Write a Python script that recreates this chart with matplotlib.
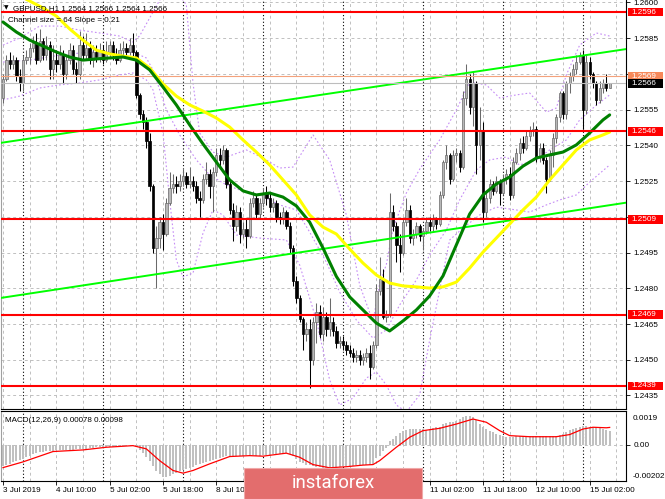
import matplotlib
matplotlib.use("Agg")
import matplotlib.pyplot as plt
from matplotlib.patches import Rectangle
import numpy as np

plt.rcParams['font.family'] = ['Liberation Sans', 'DejaVu Sans']

# ---------------- data (GBPUSD H1, 3 Jul 18:00 .. 15 Jul 08:00) ----------------
open_ = [
 1.2560,1.2568,1.2576,1.2574,1.2576,1.2569,1.2566,1.2576,1.2577,1.2581,
 1.2583,1.2576,1.2584,1.2578,1.2582,1.2572,1.2576,1.2574,1.2578,1.2570,
 1.2576,1.2580,1.2572,1.2570,1.2582,1.2578,1.2581,1.2576,1.2579,1.2577,
 1.2580,1.2576,1.2579,1.2582,1.2578,1.2576,1.2580,1.2581,1.2579,1.2582,
 1.2579,1.2561,1.2553,1.2550,1.2542,1.2523,1.2497,1.2501,1.2508,1.2503,
 1.2516,1.2522,1.2524,1.2523,1.2525,1.2527,1.2524,1.2525,1.2523,1.2518,
 1.2517,1.2526,1.2528,1.2523,1.2529,1.2536,1.2534,1.2538,1.2524,1.2513,
 1.2506,1.2512,1.2503,1.2505,1.2502,1.2516,1.2518,1.2511,1.2516,1.2520,
 1.2518,1.2514,1.2516,1.2510,1.2509,1.2512,1.2506,1.2497,1.2483,1.2476,
 1.2467,1.2461,1.2463,1.2450,1.2466,1.2470,1.2461,1.2468,1.2463,1.2466,
 1.2462,1.2457,1.2458,1.2456,1.2454,1.2453,1.2451,1.2452,1.2450,1.2451,
 1.2453,1.2447,1.2456,1.2479,1.2484,1.2468,1.2469,1.2512,1.2506,1.2498,
 1.2495,1.2508,1.2513,1.2501,1.2503,1.2506,1.2502,1.2504,1.2508,1.2506,
 1.2509,1.2507,1.2519,1.2533,1.2536,1.2526,1.2536,1.2537,1.2531,1.2560,
 1.2568,1.2556,1.2566,1.2540,1.2546,1.2512,1.2518,1.2524,1.2521,1.2525,
 1.2520,1.2526,1.2528,1.2519,1.2533,1.2537,1.2541,1.2539,1.2544,1.2546,
 1.2547,1.2535,1.2539,1.2534,1.2526,1.2536,1.2543,1.2552,1.2562,1.2553,
 1.2566,1.2569,1.2572,1.2575,1.2578,1.2555,1.2575,1.2570,1.2566,1.2559,
 1.2564,1.2566,1.2564]
high = [
 1.2570,1.2578,1.2579,1.2578,1.2577,1.2572,1.2578,1.2580,1.2583,1.2586,
 1.2587,1.2589,1.2585,1.2586,1.2584,1.2582,1.2580,1.2582,1.2580,1.2578,
 1.2583,1.2582,1.2575,1.2588,1.2586,1.2587,1.2584,1.2582,1.2582,1.2583,
 1.2582,1.2584,1.2584,1.2584,1.2581,1.2583,1.2584,1.2583,1.2585,1.2587,
 1.2580,1.2562,1.2555,1.2552,1.2545,1.2524,1.2506,1.2510,1.2511,1.2518,
 1.2529,1.2528,1.2527,1.2528,1.2530,1.2529,1.2531,1.2527,1.2525,1.2521,
 1.2528,1.2533,1.2530,1.2531,1.2539,1.2539,1.2540,1.2539,1.2526,1.2516,
 1.2515,1.2514,1.2508,1.2509,1.2518,1.2521,1.2519,1.2518,1.2522,1.2523,
 1.2520,1.2518,1.2517,1.2512,1.2514,1.2513,1.2508,1.2498,1.2485,1.2477,
 1.2468,1.2466,1.2467,1.2468,1.2474,1.2473,1.2472,1.2470,1.2476,1.2468,
 1.2464,1.2460,1.2460,1.2458,1.2456,1.2455,1.2454,1.2454,1.2453,1.2455,
 1.2456,1.2458,1.2482,1.2493,1.2488,1.2471,1.2520,1.2515,1.2508,1.2503,
 1.2510,1.2518,1.2515,1.2505,1.2508,1.2507,1.2505,1.2510,1.2510,1.2511,
 1.2510,1.2521,1.2534,1.2540,1.2537,1.2538,1.2539,1.2538,1.2563,1.2574,
 1.2570,1.2571,1.2567,1.2556,1.2550,1.2521,1.2526,1.2525,1.2527,1.2526,
 1.2528,1.2530,1.2531,1.2535,1.2539,1.2543,1.2544,1.2546,1.2548,1.2550,
 1.2548,1.2541,1.2541,1.2535,1.2538,1.2545,1.2553,1.2563,1.2563,1.2567,
 1.2571,1.2574,1.2578,1.2579,1.2580,1.2578,1.2577,1.2571,1.2567,1.2567,
 1.2568,1.2570,1.2566]
low = [
 1.2558,1.2567,1.2572,1.2572,1.2567,1.2563,1.2563,1.2574,1.2574,1.2579,
 1.2574,1.2575,1.2576,1.2576,1.2568,1.2568,1.2571,1.2572,1.2566,1.2568,
 1.2574,1.2570,1.2566,1.2568,1.2576,1.2576,1.2574,1.2573,1.2575,1.2575,
 1.2574,1.2575,1.2577,1.2576,1.2574,1.2575,1.2578,1.2577,1.2578,1.2577,
 1.2560,1.2551,1.2547,1.2539,1.2521,1.2495,1.2480,1.2497,1.2496,1.2502,
 1.2515,1.2520,1.2520,1.2521,1.2523,1.2522,1.2522,1.2521,1.2516,1.2510,
 1.2516,1.2524,1.2518,1.2512,1.2527,1.2531,1.2532,1.2522,1.2511,1.2500,
 1.2504,1.2499,1.2501,1.2497,1.2501,1.2514,1.2509,1.2509,1.2514,1.2515,
 1.2512,1.2512,1.2508,1.2507,1.2507,1.2505,1.2495,1.2481,1.2474,1.2466,
 1.2454,1.2458,1.2438,1.2448,1.2457,1.2459,1.2458,1.2460,1.2460,1.2460,
 1.2455,1.2455,1.2454,1.2452,1.2451,1.2449,1.2449,1.2448,1.2448,1.2449,
 1.2442,1.2446,1.2455,1.2477,1.2467,1.2466,1.2468,1.2504,1.2491,1.2487,
 1.2494,1.2506,1.2499,1.2498,1.2501,1.2500,1.2496,1.2503,1.2504,1.2504,
 1.2505,1.2506,1.2518,1.2530,1.2524,1.2525,1.2533,1.2529,1.2530,1.2557,
 1.2553,1.2548,1.2528,1.2534,1.2508,1.2510,1.2516,1.2519,1.2520,1.2515,
 1.2519,1.2524,1.2517,1.2518,1.2532,1.2534,1.2537,1.2538,1.2542,1.2544,
 1.2533,1.2533,1.2532,1.2520,1.2525,1.2531,1.2541,1.2550,1.2551,1.2551,
 1.2562,1.2567,1.2570,1.2574,1.2547,1.2553,1.2568,1.2564,1.2557,1.2558,
 1.2562,1.2563,1.2564]
close = [
 1.2568,1.2576,1.2574,1.2576,1.2569,1.2566,1.2576,1.2577,1.2581,1.2583,
 1.2576,1.2584,1.2578,1.2582,1.2572,1.2576,1.2574,1.2578,1.2570,1.2576,
 1.2580,1.2572,1.2570,1.2582,1.2578,1.2581,1.2576,1.2579,1.2577,1.2580,
 1.2576,1.2579,1.2582,1.2578,1.2576,1.2580,1.2581,1.2579,1.2582,1.2579,
 1.2561,1.2553,1.2550,1.2542,1.2523,1.2497,1.2501,1.2508,1.2503,1.2516,
 1.2522,1.2524,1.2523,1.2525,1.2527,1.2524,1.2525,1.2523,1.2518,1.2517,
 1.2526,1.2528,1.2523,1.2529,1.2536,1.2534,1.2538,1.2524,1.2513,1.2506,
 1.2512,1.2503,1.2505,1.2502,1.2516,1.2518,1.2511,1.2516,1.2520,1.2518,
 1.2514,1.2516,1.2510,1.2509,1.2512,1.2506,1.2497,1.2483,1.2476,1.2467,
 1.2461,1.2463,1.2450,1.2466,1.2470,1.2461,1.2468,1.2463,1.2466,1.2462,
 1.2457,1.2458,1.2456,1.2454,1.2453,1.2451,1.2452,1.2450,1.2451,1.2453,
 1.2447,1.2456,1.2479,1.2484,1.2468,1.2469,1.2512,1.2506,1.2498,1.2495,
 1.2508,1.2513,1.2501,1.2503,1.2506,1.2502,1.2504,1.2508,1.2506,1.2509,
 1.2507,1.2519,1.2533,1.2536,1.2526,1.2536,1.2537,1.2531,1.2560,1.2568,
 1.2556,1.2566,1.2540,1.2546,1.2512,1.2518,1.2524,1.2521,1.2525,1.2520,
 1.2526,1.2528,1.2519,1.2533,1.2537,1.2541,1.2539,1.2544,1.2546,1.2547,
 1.2535,1.2539,1.2534,1.2526,1.2536,1.2543,1.2552,1.2562,1.2553,1.2566,
 1.2569,1.2572,1.2575,1.2578,1.2555,1.2575,1.2570,1.2566,1.2559,1.2564,
 1.2566,1.2564,1.2566]

ma_idx = [0,4,8,12,16,20,24,28,32,36,40,44,48,52,56,60,64,68,72,76,80,84,88,92,
          96,100,104,108,112,116,120,124,128,132,136,140,144,148,152,156,160,164,
          168,172,176,180,182]
ma_green = [1.25918,1.25876,1.25842,1.25817,1.25792,1.25771,1.25758,1.25763,1.25767,
            1.25771,1.25758,1.25717,1.25645,1.25570,1.25486,1.25406,1.25330,1.25255,
            1.25209,1.25192,1.25200,1.25183,1.25146,1.25078,1.24969,1.24850,1.24764,
            1.24709,1.24654,1.24621,1.24663,1.24709,1.24768,1.24852,1.24982,1.25112,
            1.25192,1.25238,1.25267,1.25313,1.25347,1.25360,1.25372,1.25402,1.25452,
            1.25507,1.25528]
ma_yellow = [1.26061,1.26036,1.26006,1.25977,1.25943,1.25889,1.25842,1.25800,1.25784,
             1.25775,1.25767,1.25725,1.25658,1.25607,1.25570,1.25544,1.25515,1.25477,
             1.25423,1.25372,1.25318,1.25255,1.25192,1.25108,1.25057,1.25028,1.24965,
             1.24906,1.24856,1.24822,1.24810,1.24806,1.24801,1.24806,1.24826,1.24885,
             1.24952,1.25011,1.25070,1.25129,1.25183,1.25255,1.25318,1.25381,1.25423,
             1.25444,1.25456]

bb_upper_idx = [0,5,11,17,23,29,35,39,41,43,45,47,50,53,55,57,59,63,67,73,78,83,87,93,
                98,103,107,111,113,115,117,121,125,131,136,140,145,149,154,158,163,166,
                169,173,178,182]
bb_upper = [1.25821,1.25851,1.25901,1.25901,1.25884,1.25872,1.25859,1.25834,1.25860,
            1.25910,1.25960,1.26010,1.26040,1.26030,1.25990,1.25662,1.25452,1.25372,
            1.25351,1.25381,1.25347,1.25305,1.25309,1.25444,1.25339,1.25108,1.24814,
            1.24660,1.24820,1.24900,1.25050,1.25200,1.25300,1.25423,1.25549,1.25666,
            1.25654,1.25599,1.25612,1.25620,1.25540,1.25557,1.25696,1.25821,1.25872,
            1.25859]
bb_mid_idx = [0,8,17,26,35,39,43,45,49,53,58,62,67,71,77,83,88,92,97,101,106,111,115,
              119,124,128,133,137,142,146,151,155,160,164,169,173,178,182]
bb_mid = [1.25750,1.25758,1.25779,1.25792,1.25792,1.25792,1.25767,1.25717,1.25550,
          1.25444,1.25339,1.25276,1.25234,1.25213,1.25192,1.25150,1.25129,1.25036,
          1.24910,1.24784,1.24667,1.24591,1.24625,1.24730,1.24835,1.24940,1.25045,
          1.25171,1.25297,1.25339,1.25351,1.25318,1.25339,1.25381,1.25423,1.25507,
          1.25569,1.25612]
bb_lower_idx = [0,5,11,17,23,29,35,39,43,45,48,50,52,54,57,60,63,66,70,77,85,89,94,98,
                101,105,109,112,115,118,121,125,128,131,134,138,143,148,154,158,163,167,
                172,176,182]
bb_lower = [1.25591,1.25607,1.25641,1.25654,1.25662,1.25675,1.25696,1.25704,1.25675,
            1.25633,1.25452,1.25171,1.24919,1.24848,1.24864,1.25032,1.25129,1.25108,
            1.25024,1.25011,1.25003,1.24898,1.24667,1.24415,1.24310,1.24339,1.24423,
            1.24449,1.24394,1.24310,1.24281,1.24352,1.24583,1.24793,1.25003,1.25053,
            1.25108,1.25141,1.25129,1.25120,1.25150,1.25171,1.25192,1.25246,1.25318]

channel_upper = [(0, 1.25412), (182, 1.25794)]
channel_lower = [(0, 1.24761), (182, 1.25149)]

levels = [1.2596, 1.2546, 1.2509, 1.2469, 1.2439]
ask_price = 1.2569
bid_price = 1.2566
price_ticks = [1.2435, 1.2450, 1.2465, 1.2480, 1.2495, 1.2510,
               1.2525, 1.2540, 1.2555, 1.2570, 1.2585, 1.2600]
# tick labels that sit under a price box in the reference are not visible there
price_tick_labels = ['1.2435', '1.2450', '1.2465', '1.2480', '1.2495', '',
                     '1.2525', '1.2540', '1.2555', '', '1.2585', '1.2600']

macd_hist = [
 -0.00117,-0.00111,-0.00104,-0.00098,-0.00091,-0.00084,-0.00077,-0.00069,-0.00061,-0.00053,
 -0.00046,-0.00040,-0.00037,-0.00035,-0.00034,-0.00033,-0.00031,-0.00030,-0.00029,-0.00028,
 -0.00027,-0.00026,-0.00025,-0.00024,-0.00022,-0.00020,-0.00018,-0.00016,-0.00014,-0.00013,
 -0.00012,-0.00011,-0.00010,-0.00009,-0.00008,-0.00007,-0.00006,-0.00004,-0.00003,-0.00003,
 -0.00012,-0.00028,-0.00045,-0.00068,-0.00092,-0.00120,-0.00148,-0.00165,-0.00177,-0.00181,
 -0.00175,-0.00165,-0.00155,-0.00145,-0.00140,-0.00135,-0.00130,-0.00125,-0.00115,-0.00107,
 -0.00102,-0.00097,-0.00090,-0.00083,-0.00078,-0.00072,-0.00067,-0.00063,-0.00061,-0.00060,
 -0.00060,-0.00060,-0.00060,-0.00059,-0.00059,-0.00059,-0.00060,-0.00060,-0.00059,-0.00057,
 -0.00055,-0.00053,-0.00051,-0.00049,-0.00048,-0.00047,-0.00052,-0.00063,-0.00080,-0.00095,
 -0.00103,-0.00110,-0.00115,-0.00118,-0.00122,-0.00125,-0.00127,-0.00128,-0.00128,-0.00126,
 -0.00124,-0.00122,-0.00120,-0.00118,-0.00117,-0.00116,-0.00115,-0.00115,-0.00114,-0.00114,
 -0.00115,-0.00112,-0.00075,-0.00060,-0.00035,-0.00018,0.00020,0.00035,0.00050,0.00065,
 0.00077,0.00084,0.00088,0.00090,0.00090,0.00089,0.00088,0.00086,0.00088,0.00093,
 0.00099,0.00103,0.00117,0.00121,0.00126,0.00131,0.00136,0.00145,0.00155,0.00160,
 0.00164,0.00158,0.00140,0.00120,0.00100,0.00090,0.00078,0.00071,0.00062,0.00054,
 0.00048,0.00045,0.00045,0.00046,0.00048,0.00050,0.00050,0.00051,0.00052,0.00052,
 0.00050,0.00049,0.00048,0.00048,0.00050,0.00051,0.00052,0.00056,0.00060,0.00072,
 0.00082,0.00090,0.00097,0.00103,0.00106,0.00104,0.00101,0.00099,0.00097,0.00093,
 0.00089,0.00083,0.00078]
signal_idx = [0,6,15,24,31,39,43,47,51,54,57,62,68,74,78,85,89,93,98,103,108,111,113,
              118,122,126,131,136,141,145,149,152,158,166,170,174,177,181,182]
signal = [-0.00127,-0.00095,-0.00037,-0.00028,-0.00013,-0.00004,-0.00022,-0.00088,
          -0.00143,-0.00158,-0.00143,-0.00106,-0.00065,-0.00060,-0.00063,-0.00046,
          -0.00069,-0.00110,-0.00128,-0.00122,-0.00113,-0.00110,-0.00088,-0.00013,
          0.00043,0.00080,0.00093,0.00117,0.00145,0.00127,0.00080,0.00052,0.00046,
          0.00046,0.00058,0.00089,0.00099,0.00096,0.00098]
macd_max, macd_min = 0.0019, -0.00202

time_idx = [0, 16, 32, 48, 64, 80, 96, 112, 128, 144, 160, 176]
# labels at 80/96/112 are hidden behind the logo in the reference
time_labels = ['3 Jul 2019', '4 Jul 10:00', '5 Jul 02:00', '5 Jul 18:00', '8 Jul 10:00',
               '', '', '', '11 Jul 02:00', '11 Jul 18:00', '12 Jul 10:00', '15 Jul 02:00']
day_starts = [6, 30, 54, 78, 102, 126, 150, 174]

# ---------------- figure ----------------
W, H = 665, 499
fig = plt.figure(figsize=(W / 100, H / 100), dpi=100)
fig.patch.set_facecolor('white')

def fx(px):
    return px / W

def fy(py):
    return 1 - py / H

ax = fig.add_axes([fx(1), fy(409), fx(626) - fx(1), fy(0) - fy(409)])
ax2 = fig.add_axes([fx(1), fy(481), fx(626) - fx(1), fy(411) - fy(481)])

FS = 5.9
GRID = '#C0C0C0'
n = len(close)
x = np.arange(n)

for a in (ax, ax2):
    a.set_xlim(-0.6, 186.9)
    a.set_facecolor('white')
    for g in range(0, 187, 8):
        a.axvline(g, color=GRID, lw=0.7, ls=(0, (3, 3)), zorder=1)
    for d in day_starts:
        a.axvline(d, color='black', lw=0.8, ls=(0, (1, 2)), zorder=1.2)
    for s in a.spines.values():
        s.set_linewidth(0.8)
        s.set_color('black')
    a.spines['left'].set_color('#A0A0A0')

ax.spines['top'].set_visible(False)
ax.set_ylim(1.242933, 1.260104)
for p in price_ticks:
    ax.axhline(p, color=GRID, lw=0.7, ls=(0, (3, 3)), zorder=1)

# Bollinger-style dotted bands
for bi, bv in ((bb_upper_idx, bb_upper), (bb_mid_idx, bb_mid), (bb_lower_idx, bb_lower)):
    ax.plot(bi, bv, color='#C58CF5', lw=0.8, ls=(0, (1.5, 2)), zorder=2)

# candles
o = np.array(open_); c = np.array(close); h = np.array(high); l = np.array(low)
bull = c >= o
body_lo = np.minimum(o, c)
body_h = np.maximum(np.abs(c - o), 0.00003)
ax.vlines(x[bull], l[bull], h[bull], color='#6A6A6A', lw=0.75, zorder=3)
ax.vlines(x[~bull], l[~bull], h[~bull], color='black', lw=0.75, zorder=3)
ax.bar(x[bull], body_h[bull], bottom=body_lo[bull], width=0.7, color='#B8B8B8',
       edgecolor='#6A6A6A', linewidth=0.5, zorder=3.1)
ax.bar(x[~bull], body_h[~bull], bottom=body_lo[~bull], width=0.7, color='black',
       edgecolor='black', linewidth=0.5, zorder=3.1)

# channel
ax.axline(channel_upper[0], channel_upper[1], color='#00FF00', lw=1.4, zorder=4)
ax.axline(channel_lower[0], channel_lower[1], color='#00FF00', lw=1.4, zorder=4)

# moving averages
ax.plot(ma_idx, ma_yellow, color='#FFFF00', lw=2.2, zorder=5, solid_capstyle='round')
ax.plot(ma_idx, ma_green, color='#008000', lw=2.2, zorder=5.1, solid_capstyle='round')

# horizontal levels
ax.axhline(ask_price, color='#F4A27C', lw=0.8, zorder=4.5)
ax.axhline(bid_price, color='#BDBDBD', lw=0.8, zorder=4.5)
for lv in levels:
    ax.axhline(lv, color='#FF0000', lw=1.5, zorder=6)

# price axis
ax.yaxis.tick_right()
ax.set_yticks(price_ticks)
ax.set_yticklabels(price_tick_labels)
ax.tick_params(axis='y', length=3, width=0.6, pad=2.5, labelsize=FS, colors='black')
ax.tick_params(axis='x', bottom=False, labelbottom=False)

# price boxes
tr = ax.get_yaxis_transform()
halfh = 4.4 * (1.260104 - 1.242933) / 408
bx0 = (628 - 1) / 625
bw = (663 - 628) / 625
def price_box(p, fc, tc='white'):
    ax.add_patch(Rectangle((bx0, p - halfh), bw, 2 * halfh, transform=tr, fc=fc,
                           ec='none', clip_on=False, zorder=20))
    ax.text(bx0 + 3 / 625, p, '%.4f' % p, transform=tr, ha='left', va='center',
            fontsize=FS, color=tc, clip_on=False, zorder=21)
for lv in levels:
    price_box(lv, '#FF0000')
price_box(ask_price, '#F7895A')
price_box(bid_price, '#000000')

# ---------------- MACD ----------------
ax2.set_ylim(macd_min, macd_max)
ax2.axhline(0, color=GRID, lw=0.7, ls=(0, (3, 3)), zorder=1)
ax2.bar(x, macd_hist, width=0.62, color='#C0C0C0', zorder=2)
ax2.plot(signal_idx, signal, color='#FF0000', lw=0.9, zorder=3)
ax2.yaxis.tick_right()
ax2.set_yticks([0])
ax2.set_yticklabels(['0.00'])
ax2.tick_params(axis='y', length=3, width=0.6, pad=2.5, labelsize=FS)
ax2.set_xticks(time_idx)
ax2.set_xticklabels(time_labels, ha='left')
ax2.tick_params(axis='x', length=3, width=0.6, pad=1.5, labelsize=FS)
fig.text(fx(633), fy(419), '%.4f' % macd_max, fontsize=FS, va='center', ha='left')
fig.text(fx(633), fy(476), '%.5f' % macd_min, fontsize=FS, va='center', ha='left')

# ---------------- header texts ----------------
fig.text(fx(4), fy(7.5), '\u25BC', fontsize=4.2, family='DejaVu Sans', va='center', ha='left')
fig.text(fx(13), fy(9), 'GBPUSD,H1 1.2564 1.2566 1.2564 1.2566', fontsize=5.8,
         va='center', ha='left')
fig.text(fx(8), fy(20), 'Channel size = 64 Slope = 0.21', fontsize=5.8, va='center', ha='left')
fig.text(fx(5), fy(420), 'MACD(12,26,9) 0.00078 0.00098', fontsize=5.8, va='center', ha='left')

# ---------------- logo ----------------
fig.add_artist(Rectangle((fx(244), fy(499)), fx(422) - fx(244), fy(468) - fy(499),
                         transform=fig.transFigure, fc='#E36D6D', ec='#F0A8A8', lw=0.8,
                         zorder=10))
fig.text(fx(333), fy(483.5), 'instaforex', color='white', fontsize=13.4, family='Roboto',
         ha='center', va='center', zorder=11)

fig.savefig('out.png', dpi=100, facecolor='white')
